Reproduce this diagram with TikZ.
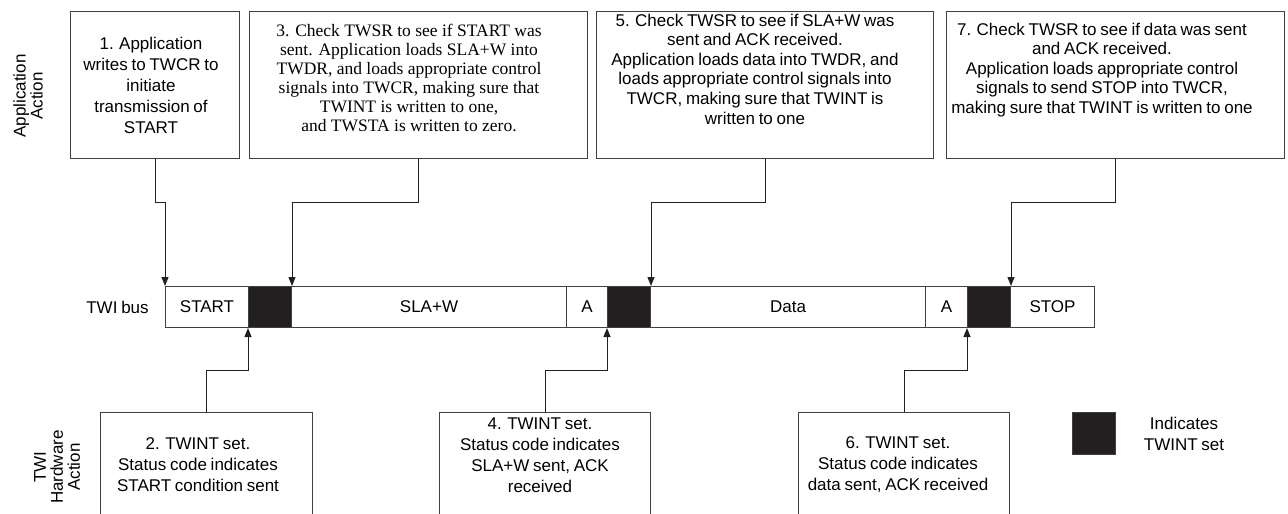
\documentclass[tikz,border=0pt]{standalone}
\usepackage{fontspec}
\setmainfont[WordSpace=0.8]{Liberation Sans}
\newfontfamily\tnr{Liberation Serif}
\usetikzlibrary{arrows.meta,calc}
\definecolor{linec}{HTML}{404040}
\definecolor{darkc}{HTML}{231F20}
\begin{document}
\begin{tikzpicture}[x=1pt,y=-1pt,
  frame/.style={draw=linec, line width=1pt, inner sep=0pt, anchor=north west},
  seg/.style={draw=linec, line width=1pt, inner sep=0pt, anchor=north west, minimum height=41pt, font=\fontsize{17}{21}\selectfont},
  blk/.style={seg, fill=darkc},
  txt/.style={align=center, inner sep=0pt, font=\fontsize{17}{21}\selectfont},
  txtb/.style={align=center, inner sep=0pt, font=\fontsize{17}{19.6}\selectfont},
  serif/.style={align=center, inner sep=0pt, font=\tnr\fontsize{17.5}{19}\selectfont},
  side/.style={align=center, inner sep=0pt, rotate=90, font=\fontsize{17}{17}\selectfont},
  conn/.style={draw=darkc, line width=1pt, -{Triangle[length=9pt,width=7pt]}}
]
\useasboundingbox (0,0) rectangle (1288,514);
\clip (0,0) rectangle (1288,514);

% side labels
\node[side] (appact) at (28,96) {Application\\Action};
\node[side] (hwact) at (57,467) {TWI\\Hardware\\Action};
\node[txt] (buslbl) at (117.5,307) {TWI bus};

% top boxes
\node[frame, minimum width=169pt, minimum height=147pt] (b1) at (70,11) {};
\node[frame, minimum width=338pt, minimum height=147pt] (b3) at (249,11) {};
\node[frame, minimum width=337pt, minimum height=147pt] (b5) at (596,11) {};
\node[frame, minimum width=338pt, minimum height=147pt] (b7) at (946,11) {};

\node[txt] (t1) at (151,85) {1. Application\\writes to TWCR to\\initiate\\transmission of\\START};
\node[serif] (t3) at (409,78) {3. Check TWSR to see if START was\\sent. Application loads SLA+W into\\TWDR, and loads appropriate control\\signals into TWCR, making sure that\\TWINT is written to one,\\and TWSTA is written to zero.};
\node[txtb] (t5) at (755,69) {5. Check TWSR to see if SLA+W was\\sent and ACK received.\\Application loads data into TWDR, and\\loads appropriate control signals into\\TWCR, making sure that TWINT is\\written to one};
\node[txtb] (t7) at (1102,70) {7. Check TWSR to see if data was sent\\and ACK received.\\Application loads appropriate control\\signals to send STOP into TWCR,\\making sure that TWINT is written to one};

% bus
\node[seg, minimum width=83pt] (s1) at (165,286) {START};
\node[blk, minimum width=43pt] (k1) at (248,286) {};
\node[seg, minimum width=275pt] (s2) at (291,286) {SLA+W};
\node[seg, minimum width=41pt] (s3) at (566,286) {A};
\node[blk, minimum width=43pt] (k2) at (607,286) {};
\node[seg, minimum width=275pt] (s4) at (650,286) {Data};
\node[seg, minimum width=42pt] (s5) at (925,286) {A};
\node[blk, minimum width=43pt] (k3) at (967,286) {};
\node[seg, minimum width=84pt] (s6) at (1010,286) {STOP};

% bottom boxes
\node[frame, minimum width=212pt, minimum height=120pt] (b2) at (100,412) {};
\node[frame, minimum width=211pt, minimum height=120pt] (b4) at (439,412) {};
\node[frame, minimum width=211pt, minimum height=120pt] (b6) at (798,412) {};

\node[txt] (t2) at (198,465) {2. TWINT set.\\Status code indicates\\START condition sent};
\node[txt] (t4) at (540,455.5) {4. TWINT set.\\Status code indicates\\SLA+W sent, ACK\\received};
\node[txt] (t6) at (898,465) {6. TWINT set.\\Status code indicates\\data sent, ACK received};

% legend
\node[blk, minimum width=43pt, minimum height=42pt] (leg) at (1072,412) {};
\node[txt] (legt) at (1184,433.5) {Indicates\\TWINT set};

% connectors from application
\draw[conn] (b1.south) -- ++(0,43) -| (s1.north west);
\draw[conn] (b3.south) -- ++(0,43) -| (k1.north east);
\draw[conn] (b5.south) -- ++(0,43) -| (k2.north east);
\draw[conn] (b7.south) -- ++(0,43) -| (k3.north east);

% connectors from hardware
\draw[conn] (b2.north) -- ++(0,-42) -| (k1.south west);
\draw[conn] (b4.north) -- ++(0,-42) -| (k2.south west);
\draw[conn] (b6.north) -- ++(0,-42) -| (k3.south west);
\end{tikzpicture}
\end{document}
